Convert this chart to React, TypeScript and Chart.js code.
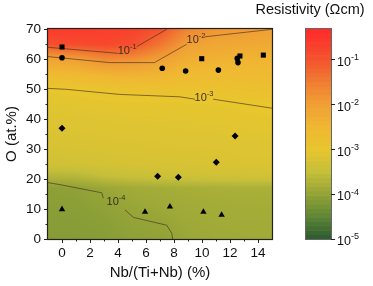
import React, { useEffect, useRef } from 'react';
import { Chart, registerables } from 'chart.js';

Chart.register(...registerables);

const FONT = "'Liberation Sans', Arial, Helvetica, sans-serif";

// ---- scatter markers ----
const squareX = [0, 9.98, 12.71, 14.38];
const squareY = [64.0, 60.1, 61.0, 61.3];
const circleX = [0, 7.16, 8.83, 11.17, 12.52, 12.57];
const circleY = [60.4, 56.9, 56.0, 56.3, 60.2, 58.8];
const diamondX = [0, 6.83, 8.31, 11.02, 12.36];
const diamondY = [36.9, 20.9, 20.6, 25.6, 34.3];
const triangleX = [0, 5.93, 7.71, 10.1, 11.4];
const triangleY = [9.9, 9.0, 10.8, 9.0, 8.0];

// ---- contour lines (null = gap for label) ----
const contour1X = [-1, 4.0, 4.6, 5.33, 7.4, 7.5];
const contour1Y = [63.9, 61.9, null, 64.1, 69.7, 70];
const contour2X = [-1, 3.4, 6.6, 8.9, 9.5, 10.2, 15];
const contour2Y = [60.8, 58.8, 58.8, 64.9, null, 67.4, 69.9];
const contour3X = [-1, 0.3, 4.1, 8.4, 9.5, 10.1, 10.8, 15];
const contour3Y = [50.2, 49.9, 48.2, 47.4, 46.6, null, 46.6, 43.6];
const contour4X = [-1, 0, 2.84, 2.95, 3.7, 4.5, 5.1, 7.48, 7.84, 7.9];
const contour4Y = [18.8, 18.0, 15.4, 13.6, null, 9.7, 7.2, 4.6, 1.9, 0];

const contourLabelX = [4.65, 9.57, 10.14, 3.86];
const contourLabelY = [62.7, 66.3, 47.0, 12.3];
const contourLabelExp = ['-1', '-2', '-3', '-4'];

// ---- resistivity field, log10(rho / Ωcm) on a grid ----
const fieldX = [-1, 1, 3, 5, 7, 9, 11, 13, 15];
const fieldY = [70, 65, 60, 55, 50, 45, 40, 35, 30, 25, 21, 17, 12, 6, 0];
const fieldLog = [
  [-0.6, -0.6, -0.65, -0.7, -0.95, -1.6, -1.85, -1.93, -2.0],
  [-0.9, -0.85, -0.8, -0.9, -1.4, -2.0, -2.13, -2.16, -2.19],
  [-2.08, -1.99, -1.68, -1.75, -2.0, -2.28, -2.37, -2.4, -2.42],
  [-2.55, -2.49, -2.38, -2.35, -2.4, -2.56, -2.61, -2.58, -2.56],
  [-3.0, -2.98, -2.88, -2.83, -2.81, -2.85, -2.84, -2.79, -2.76],
  [-3.1, -3.09, -3.07, -3.06, -3.05, -3.04, -3.03, -2.99, -2.95],
  [-3.15, -3.14, -3.12, -3.11, -3.1, -3.09, -3.08, -3.06, -3.05],
  [-3.2, -3.19, -3.17, -3.16, -3.15, -3.14, -3.13, -3.11, -3.1],
  [-3.26, -3.25, -3.23, -3.22, -3.2, -3.19, -3.18, -3.16, -3.15],
  [-3.35, -3.34, -3.3, -3.28, -3.26, -3.24, -3.22, -3.2, -3.2],
  [-3.68, -3.65, -3.52, -3.46, -3.42, -3.38, -3.36, -3.34, -3.33],
  [-4.06, -4.04, -3.93, -3.86, -3.83, -3.8, -3.78, -3.77, -3.77],
  [-4.08, -4.07, -4.02, -3.93, -3.88, -3.85, -3.83, -3.82, -3.82],
  [-4.1, -4.1, -4.07, -4.0, -3.96, -3.89, -3.86, -3.85, -3.85],
  [-4.12, -4.12, -4.1, -4.05, -4.02, -3.93, -3.88, -3.87, -3.87],
];

// ---- colour map ----
const cmapLog = [-5, -4.5, -4, -3.5, -3, -2.5, -2, -1.5, -1, -0.33];
const cmapColor = ['#2b5a30', '#5e8636', '#93a337', '#c6bf3a', '#e8c62e', '#f0b832', '#f0a035', '#f07d32', '#f4542f', '#ff2a2a'];

// ---- colour bar ----
const cbMin = 1e-5;
const cbMax = 0.468;
const cbTickVals = [1e-5, 1e-4, 1e-3, 1e-2, 1e-1];
const cbTickExp = ['-5', '-4', '-3', '-2', '-1'];

const xTickVals = [0, 2, 4, 6, 8, 10, 12, 14];
const xMinorVals = [1, 3, 5, 7, 9, 11, 13];
const yTickVals = [0, 10, 20, 30, 40, 50, 60, 70];
const yMinorVals = [5, 15, 25, 35, 45, 55, 65];

function hexToRgb(h: string) {
  return [parseInt(h.slice(1, 3), 16), parseInt(h.slice(3, 5), 16), parseInt(h.slice(5, 7), 16)];
}
const cmapRgb = cmapColor.map(hexToRgb);

function cmap(v: number) {
  if (v <= cmapLog[0]) return cmapRgb[0];
  const n = cmapLog.length;
  if (v >= cmapLog[n - 1]) return cmapRgb[n - 1];
  let i = 0;
  while (i < n - 2 && v > cmapLog[i + 1]) i++;
  const t = (v - cmapLog[i]) / (cmapLog[i + 1] - cmapLog[i]);
  const a = cmapRgb[i], b = cmapRgb[i + 1];
  return [a[0] + (b[0] - a[0]) * t, a[1] + (b[1] - a[1]) * t, a[2] + (b[2] - a[2]) * t];
}

function fieldAt(xv: number, yv: number) {
  const nx = fieldX.length, ny = fieldY.length;
  let i = 0;
  while (i < nx - 2 && xv > fieldX[i + 1]) i++;
  let j = 0;
  while (j < ny - 2 && yv < fieldY[j + 1]) j++;
  let tx = (xv - fieldX[i]) / (fieldX[i + 1] - fieldX[i]);
  let ty = (yv - fieldY[j]) / (fieldY[j + 1] - fieldY[j]);
  tx = Math.max(0, Math.min(1, tx));
  ty = Math.max(0, Math.min(1, ty));
  const a = fieldLog[j][i], b = fieldLog[j][i + 1], c = fieldLog[j + 1][i], d = fieldLog[j + 1][i + 1];
  return (a * (1 - tx) + b * tx) * (1 - ty) + (c * (1 - tx) + d * tx) * ty;
}

function pts(xs: number[], ys: (number | null)[]) {
  return xs.map((x, k) => ({ x, y: ys[k] }));
}

function drawPow(ctx: CanvasRenderingContext2D, x: number, y: number, exp: string, base: number, sup: number, align: string, color: string) {
  ctx.save();
  ctx.font = `${base}px ${FONT}`;
  const wb = ctx.measureText('10').width;
  ctx.font = `${sup}px ${FONT}`;
  const ws = ctx.measureText(exp).width;
  const x0 = align === 'center' ? x - (wb + ws) / 2 : x;
  ctx.fillStyle = color;
  ctx.textAlign = 'left';
  ctx.textBaseline = 'middle';
  ctx.font = `${base}px ${FONT}`;
  ctx.fillText('10', x0, y);
  ctx.font = `${sup}px ${FONT}`;
  ctx.fillText(exp, x0 + wb, y - base * 0.4);
  ctx.restore();
}

const fieldPlugin = {
  id: 'field',
  beforeDraw(chart: any) {
    const { ctx, chartArea: a, scales } = chart;
    const xs = scales.x, ys = scales.y;
    const L = Math.round(a.left), T = Math.round(a.top);
    const W = Math.round(a.right) - L, H = Math.round(a.bottom) - T;
    const img = ctx.createImageData(W, H);
    for (let j = 0; j < H; j++) {
      const yv = ys.getValueForPixel(T + j + 0.5);
      for (let i = 0; i < W; i++) {
        const xv = xs.getValueForPixel(L + i + 0.5);
        const c = cmap(fieldAt(xv, yv));
        const k = (j * W + i) * 4;
        img.data[k] = c[0];
        img.data[k + 1] = c[1];
        img.data[k + 2] = c[2];
        img.data[k + 3] = 255;
      }
    }
    ctx.putImageData(img, L, T);
  },
};

const decorPlugin = {
  id: 'decor',
  afterDatasetsDraw(chart: any) {
    const { ctx, scales } = chart;
    for (let k = 0; k < contourLabelX.length; k++) {
      const px = scales.x.getPixelForValue(contourLabelX[k]);
      const py = scales.y.getPixelForValue(contourLabelY[k]);
      drawPow(ctx, px, py, contourLabelExp[k], 11, 7.5, 'center', 'rgba(45,35,25,0.9)');
    }
  },
  afterDraw(chart: any) {
    const { ctx, chartArea: a, scales } = chart;
    ctx.save();
    // frame
    ctx.strokeStyle = '#222';
    ctx.lineWidth = 1.2;
    ctx.strokeRect(a.left - 0.5, a.top - 0.5, a.right - a.left + 1, a.bottom - a.top + 1);
    // minor ticks
    ctx.lineWidth = 1;
    ctx.beginPath();
    for (const v of xMinorVals) {
      const p = Math.round(scales.x.getPixelForValue(v)) + 0.5;
      ctx.moveTo(p, a.bottom);
      ctx.lineTo(p, a.bottom + 2.5);
    }
    for (const v of yMinorVals) {
      const p = Math.round(scales.y.getPixelForValue(v)) + 0.5;
      ctx.moveTo(a.left, p);
      ctx.lineTo(a.left - 2.5, p);
    }
    ctx.stroke();

    // colour bar
    const cb = scales.cb;
    const x0 = a.right + 34;
    const w = 25;
    const lmin = Math.log10(cbMin), lmax = Math.log10(cbMax);
    const n = 48;
    for (let k = 0; k < n; k++) {
      const lo = lmin + (k * (lmax - lmin)) / n;
      const hi = lmin + ((k + 1) * (lmax - lmin)) / n;
      const y1 = cb.getPixelForValue(Math.pow(10, lo));
      const y2 = cb.getPixelForValue(Math.pow(10, hi));
      const c = cmap((lo + hi) / 2);
      ctx.fillStyle = `rgb(${c[0] | 0},${c[1] | 0},${c[2] | 0})`;
      ctx.fillRect(x0, y2, w, y1 - y2 + 0.6);
    }
    const yt = cb.getPixelForValue(cbMax), yb = cb.getPixelForValue(cbMin);
    ctx.strokeStyle = '#666';
    ctx.lineWidth = 1;
    ctx.strokeRect(Math.round(x0) - 0.5, Math.round(yt) - 0.5, w + 1, Math.round(yb - yt) + 1);
    ctx.strokeStyle = '#222';
    ctx.beginPath();
    for (let k = 0; k < cbTickVals.length; k++) {
      const py = Math.round(cb.getPixelForValue(cbTickVals[k])) + 0.5;
      ctx.moveTo(x0 + w, py);
      ctx.lineTo(x0 + w + 4, py);
    }
    ctx.stroke();
    for (let k = 0; k < cbTickVals.length; k++) {
      const py = cb.getPixelForValue(cbTickVals[k]);
      drawPow(ctx, x0 + w + 6, py + 3, cbTickExp[k], 12.5, 9, 'left', '#111');
    }
    ctx.fillStyle = '#111';
    ctx.font = `14.5px ${FONT}`;
    ctx.textAlign = 'center';
    ctx.textBaseline = 'middle';
    ctx.fillText('Resistivity (Ωcm)', a.right + 38, 10);
    ctx.restore();
  },
};

export default function App() {
  const ref = useRef<HTMLCanvasElement>(null);
  useEffect(() => {
    if (!ref.current) return;
    const marker = (label: string, xs: number[], ys: number[], style: string, r: number) => ({
      label,
      data: pts(xs, ys),
      pointStyle: style,
      pointRadius: r,
      pointHoverRadius: r,
      backgroundColor: '#000',
      borderColor: '#000',
      borderWidth: 0,
      showLine: false,
    });
    const contour = (label: string, xs: number[], ys: (number | null)[]) => ({
      label,
      data: pts(xs, ys),
      showLine: true,
      spanGaps: false,
      pointRadius: 0,
      borderColor: 'rgba(60,40,30,0.6)',
      borderWidth: 1,
      tension: 0,
      fill: false,
    });
    const chart = new Chart(ref.current, {
      type: 'scatter',
      data: {
        datasets: [
          marker('squares', squareX, squareY, 'rect', 3.6),
          marker('circles', circleX, circleY, 'circle', 2.8),
          marker('diamonds', diamondX, diamondY, 'rectRot', 3.5),
          marker('triangles', triangleX, triangleY, 'triangle', 3.7),
          contour('1e-1', contour1X, contour1Y),
          contour('1e-2', contour2X, contour2Y),
          contour('1e-3', contour3X, contour3Y),
          contour('1e-4', contour4X, contour4Y),
        ] as any,
      },
      options: {
        animation: false,
        responsive: false,
        events: [],
        layout: { padding: { left: 0, top: 29, right: 101, bottom: 0 } },
        plugins: { legend: { display: false }, tooltip: { enabled: false } },
        scales: {
          x: {
            type: 'linear',
            min: -1,
            max: 15,
            afterBuildTicks: (s: any) => { s.ticks = xTickVals.map((v) => ({ value: v })); },
            afterFit: (s: any) => { s.height = 47; },
            grid: { drawOnChartArea: false, drawTicks: true, tickLength: 4, tickColor: '#222', tickWidth: 1 },
            border: { display: false },
            ticks: { color: '#111', font: { family: FONT, size: 13.5 }, padding: 2, maxRotation: 0 },
            title: { display: true, text: 'Nb/(Ti+Nb) (%)', color: '#111', font: { family: FONT, size: 15 }, padding: { top: 0, bottom: 4 } },
          },
          y: {
            type: 'linear',
            min: 0,
            max: 70,
            afterBuildTicks: (s: any) => { s.ticks = yTickVals.map((v) => ({ value: v })); },
            afterFit: (s: any) => { s.width = 48; },
            grid: { drawOnChartArea: false, drawTicks: true, tickLength: 4, tickColor: '#222', tickWidth: 1 },
            border: { display: false },
            ticks: { color: '#111', font: { family: FONT, size: 13.5 }, padding: 3 },
            title: { display: true, text: 'O (at.%)', color: '#111', font: { family: FONT, size: 15 }, padding: { top: 3, bottom: 0 } },
          },
          cb: {
            type: 'logarithmic',
            position: 'right',
            display: false,
            min: cbMin,
            max: cbMax,
          },
        },
      } as any,
      plugins: [fieldPlugin, decorPlugin],
    });
    return () => chart.destroy();
  }, []);
  return (
    <div style={{ position: 'fixed', left: 0, top: 0, width: 373, height: 286, background: '#fff' }}>
      <canvas ref={ref} width={373} height={286} style={{ width: 373, height: 286, display: 'block' }} />
    </div>
  );
}
